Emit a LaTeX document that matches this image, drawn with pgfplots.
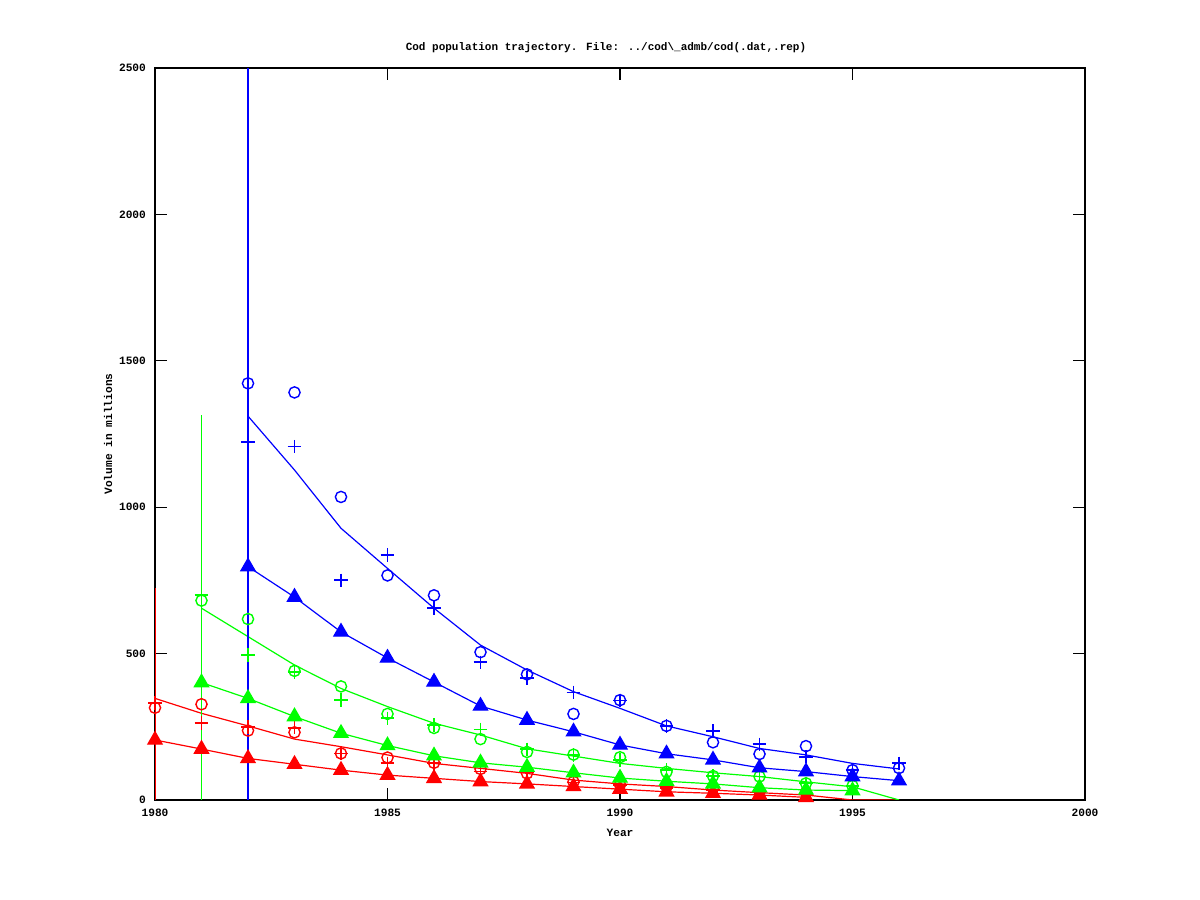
\documentclass[border=0pt]{standalone}
\usepackage{fontspec}
\setmainfont{Liberation Mono}
\usepackage{pgfplots}
\pgfplotsset{compat=1.18}
\definecolor{gpred}{RGB}{255,0,0}
\definecolor{gpgreen}{RGB}{0,255,0}
\definecolor{gpblue}{RGB}{0,0,255}
\begin{document}
\begin{tikzpicture}
\path[use as bounding box] (0,0) rectangle (600pt,450pt);
\begin{axis}[
  at={(77.5pt,50pt)}, anchor=south west,
  scale only axis, width=465pt, height=366pt,
  xmin=1980, xmax=2000, ymin=0, ymax=2500,
  xtick={1980,1985,1990,1995,2000},
  ytick={0,500,1000,1500,2000,2500},
  tick align=inside, major tick length=6pt,
  tick style={black, line width=0.6pt},
  axis line style={black, line width=0.6pt},
  /pgf/number format/assume math mode=true,
  /pgf/number format/1000 sep={},
  ticklabel style={font=\fontsize{5.6}{6}\selectfont\bfseries},
  yticklabel style={xshift=-1pt},
  xticklabel style={yshift=-1pt},
  every axis plot/.append style={line width=0.6pt},
  clip=true,
]
% ---------------- red ----------------
\addplot[color=gpred, no marks, line width=0.9pt, forget plot] coordinates {(1980,0) (1980,725)};
\addplot[color=gpred, no marks] coordinates {
(1980,347) (1981,296) (1982,253) (1983,208) (1984,182) (1985,154) (1986,125) (1987,108)
(1988,91) (1989,68) (1990,55) (1991,46) (1992,34) (1993,25) (1994,17) (1995,0) (1996,0)};
\addplot[color=gpred, only marks, mark=o, mark size=2.8pt, mark options={draw=gpred, line width=0.7pt}] coordinates {
(1980,315) (1981,327) (1982,237) (1983,231) (1984,159) (1985,145) (1986,127) (1987,106)
(1988,91) (1989,62) (1990,52) (1991,45) (1992,40) (1993,30) (1994,25)};
\addplot[color=gpred, only marks, mark=+, mark size=3.4pt, mark options={draw=gpred, line width=0.9pt}] coordinates {
(1980,332) (1981,262) (1982,250) (1983,247) (1984,159) (1985,125) (1986,125) (1987,97)
(1988,95) (1989,60) (1990,50) (1991,40) (1992,35) (1993,28) (1994,20)};
\addplot[color=gpred, mark=triangle*, mark size=4.1pt, mark options={fill=gpred, draw=gpred}] coordinates {
(1980,205) (1981,174) (1982,142) (1983,122) (1984,102) (1985,85) (1986,74) (1987,63)
(1988,55) (1989,46) (1990,37) (1991,28) (1992,23) (1993,17) (1994,9)};
% ---------------- green ----------------
\addplot[color=gpgreen, no marks, line width=0.9pt, forget plot] coordinates {(1981,0) (1981,1315)};
\addplot[color=gpgreen, no marks] coordinates {
(1981,655) (1982,558) (1983,461) (1984,381) (1985,319) (1986,262) (1987,222) (1988,175)
(1989,150) (1990,125) (1991,108) (1992,93) (1993,80) (1994,62) (1995,45) (1996,0)};
\addplot[color=gpgreen, only marks, mark=o, mark size=2.8pt, mark options={draw=gpgreen, line width=0.7pt}] coordinates {
(1981,681) (1982,618) (1983,441) (1984,388) (1985,294) (1986,246) (1987,208) (1988,164)
(1989,155) (1990,146) (1991,96) (1992,82) (1993,80) (1994,57) (1995,48)};
\addplot[color=gpgreen, only marks, mark=+, mark size=3.4pt, mark options={draw=gpgreen, line width=0.9pt}] coordinates {
(1981,700) (1982,496) (1983,438) (1984,341) (1985,279) (1986,256) (1987,241) (1988,173)
(1989,154) (1990,137) (1991,102) (1992,82) (1993,80) (1994,57) (1995,48)};
\addplot[color=gpgreen, mark=triangle*, mark size=4.1pt, mark options={fill=gpgreen, draw=gpgreen}] coordinates {
(1981,401) (1982,347) (1983,285) (1984,228) (1985,186) (1986,151) (1987,127) (1988,112)
(1989,93) (1990,75) (1991,64) (1992,55) (1993,42) (1994,34) (1995,32)};
% ---------------- blue ----------------
\addplot[color=gpblue, no marks, line width=0.9pt, forget plot] coordinates {(1982,0) (1982,2500)};
\addplot[color=gpblue, no marks] coordinates {
(1982,1311) (1983,1127) (1984,928) (1985,791) (1986,655) (1987,529) (1988,444) (1989,370)
(1990,313) (1991,253) (1992,216) (1993,176) (1994,154) (1995,125) (1996,106)};
\addplot[color=gpblue, only marks, mark=o, mark size=2.8pt, mark options={draw=gpblue, line width=0.7pt}] coordinates {
(1982,1423) (1983,1392) (1984,1035) (1985,767) (1986,699) (1987,505) (1988,429) (1989,294)
(1990,341) (1991,253) (1992,197) (1993,157) (1994,184) (1995,102) (1996,109)};
\addplot[color=gpblue, only marks, mark=+, mark size=3.4pt, mark options={draw=gpblue, line width=0.9pt}] coordinates {
(1982,1223) (1983,1207) (1984,750) (1985,836) (1986,655) (1987,470) (1988,416) (1989,367)
(1990,340) (1991,253) (1992,235) (1993,190) (1994,148) (1995,102) (1996,125)};
\addplot[color=gpblue, mark=triangle*, mark size=4.1pt, mark options={fill=gpblue, draw=gpblue}] coordinates {
(1982,797) (1983,693) (1984,574) (1985,485) (1986,403) (1987,321) (1988,273) (1989,233)
(1990,188) (1991,158) (1992,137) (1993,110) (1994,97) (1995,80) (1996,66)};
\end{axis}
\node[font=\fontsize{5.5}{6}\selectfont\bfseries] at (303pt,426pt)
  {Cod population trajectory. File: ../cod\textbackslash\_admb/cod(.dat,.rep)};
\node[font=\fontsize{5.6}{6}\selectfont\bfseries] at (310pt,33.5pt) {Year};
\node[font=\fontsize{5.6}{6}\selectfont\bfseries, rotate=90] at (54pt,233pt) {Volume in millions};
\end{tikzpicture}
\end{document}
